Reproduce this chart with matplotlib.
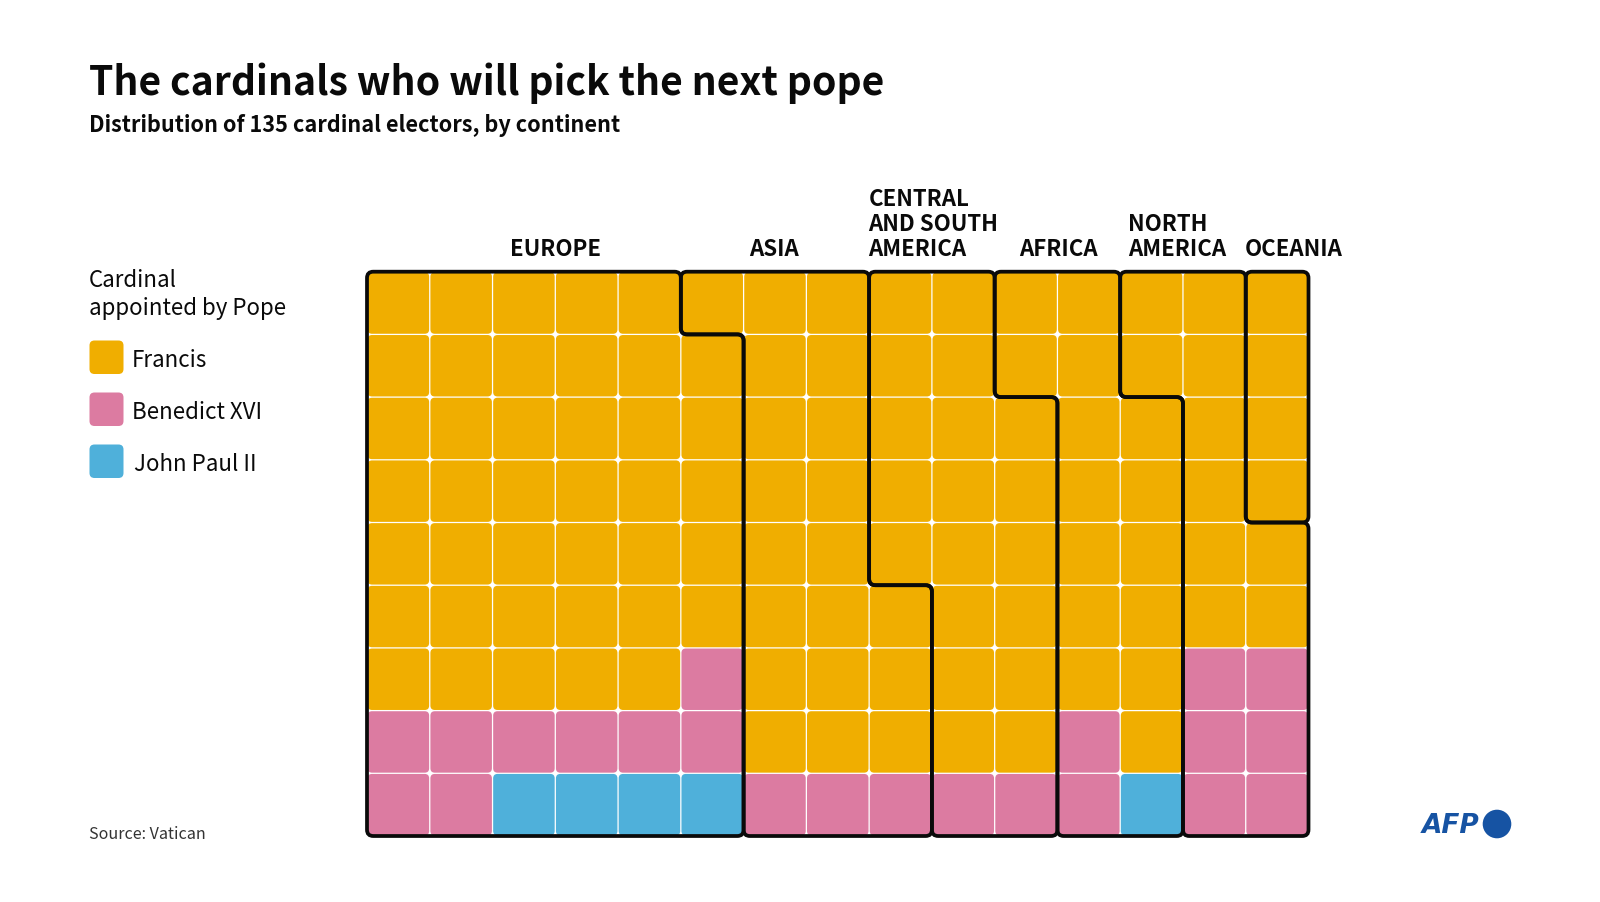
"""Waffle chart of the 135 cardinal electors, by continent and appointing pope."""

import matplotlib
matplotlib.use("Agg")
import matplotlib.pyplot as plt
from matplotlib.patches import Circle, FancyBboxPatch, PathPatch
from matplotlib.path import Path

W, H = 1600, 903
FONT = ["Noto Sans CJK SC", "DejaVu Sans"]
plt.rcParams["font.family"] = FONT

COLORS = {"F": "#f0ae00", "B": "#dc7ba1", "J": "#4fb0da"}
INK = "#0a0a0a"
LOGO_BLUE = "#1653a3"

POPES = ["Francis", "Benedict XVI", "John Paul II"]
POPE_KEYS = ["F", "B", "J"]

# one string per row, one letter per cell
POPE_ROWS = [
    "FFFFFFFFFFFFFFF",
    "FFFFFFFFFFFFFFF",
    "FFFFFFFFFFFFFFF",
    "FFFFFFFFFFFFFFF",
    "FFFFFFFFFFFFFFF",
    "FFFFFFFFFFFFFFF",
    "FFFFFBFFFFFFFBB",
    "BBBBBBFFFFFBFBB",
    "BBJJJJBBBBBBJBB",
]
CONTINENT_ROWS = [
    "EEEEEAAACCFFNNO",
    "EEEEEEAACCFFNNO",
    "EEEEEEAACCCFFNO",
    "EEEEEEAACCCFFNO",
    "EEEEEEAACCCFFNN",
    "EEEEEEAAACCFFNN",
    "EEEEEEAAACCFFNN",
    "EEEEEEAAACCFFNN",
    "EEEEEEAAACCFFNN",
]
CONTINENT_KEYS = ["E", "A", "C", "F", "N", "O"]

TITLE = "The cardinals who will pick the next pope"
SUBTITLE = "Distribution of 135 cardinal electors, by continent"
SOURCE = "Source: Vatican"


def outline(key):
    """Corner points of a continent's region, walked round its edge."""
    nrows, ncols = len(CONTINENT_ROWS), len(CONTINENT_ROWS[0])

    def inside(r, c):
        return 0 <= r < nrows and 0 <= c < ncols and CONTINENT_ROWS[r][c] == key

    edges = {}
    for r in range(nrows):
        for c in range(ncols):
            if not inside(r, c):
                continue
            if not inside(r - 1, c):
                edges[(c, r)] = (c + 1, r)
            if not inside(r, c + 1):
                edges[(c + 1, r)] = (c + 1, r + 1)
            if not inside(r + 1, c):
                edges[(c + 1, r + 1)] = (c, r + 1)
            if not inside(r, c - 1):
                edges[(c, r + 1)] = (c, r)

    start = min(edges)
    pts = [start]
    while edges[pts[-1]] != start:
        pts.append(edges[pts[-1]])

    corners = []
    for i, p in enumerate(pts):
        a, b = pts[i - 1], pts[(i + 1) % len(pts)]
        if (p[0] - a[0], p[1] - a[1]) != (b[0] - p[0], b[1] - p[1]):
            corners.append(p)
    return corners


def rounded_path(corners, rad=0.1):
    verts, codes = [], []
    n = len(corners)
    for i, p in enumerate(corners):
        a, b = corners[i - 1], corners[(i + 1) % n]

        def toward(q):
            dx, dy = q[0] - p[0], q[1] - p[1]
            length = (dx ** 2 + dy ** 2) ** 0.5
            return (p[0] + rad * dx / length, p[1] + rad * dy / length)

        verts += [toward(a), p, toward(b)]
        codes += [Path.MOVETO if i == 0 else Path.LINETO, Path.CURVE3, Path.CURVE3]
    verts.append(verts[0])
    codes.append(Path.CLOSEPOLY)
    return Path(verts, codes)


fig = plt.figure(figsize=(W / 100, H / 100), dpi=100, facecolor="white")

# overlay in pixel coordinates for the text, legend and logo
ov = fig.add_axes([0, 0, 1, 1])
ov.set_xlim(0, W)
ov.set_ylim(H, 0)
ov.axis("off")

# waffle
left, right, top, bottom = 367, 1308.5, 272.7, 837
ax = fig.add_axes([left / W, 1 - bottom / H, (right - left) / W, (bottom - top) / H])
ax.set_xlim(0, len(POPE_ROWS[0]))
ax.set_ylim(len(POPE_ROWS), 0)
ax.axis("off")

gap = 0.01
for r, row in enumerate(POPE_ROWS):
    for c, key in enumerate(row):
        ax.add_patch(FancyBboxPatch(
            (c + gap, r + gap), 1 - 2 * gap, 1 - 2 * gap,
            boxstyle="round,pad=0,rounding_size=0.07",
            fc=COLORS[key], ec="none",
        ))

for key in CONTINENT_KEYS:
    ax.add_patch(PathPatch(rounded_path(outline(key)), fc="none", ec=INK,
                           lw=2.7, clip_on=False, zorder=5))

# titles
ov.text(89, 95, TITLE, fontsize=28.2, fontweight="bold", color=INK, va="baseline")
ov.text(89, 132, SUBTITLE, fontsize=15.6, fontweight="bold", color=INK, va="baseline")
ov.text(89, 839, SOURCE, fontsize=11.55, color="#333333", va="baseline")

# continent labels
label_kw = dict(fontsize=16, fontweight="bold", color=INK, va="baseline")
ov.text(555, 256.5, "EUROPE", ha="center", **label_kw)
ov.text(774, 256.5, "ASIA", ha="center", **label_kw)
for y, line in zip((206.5, 231.5, 256.5), ("CENTRAL", "AND SOUTH", "AMERICA")):
    ov.text(868.5, y, line, ha="left", **label_kw)
ov.text(1058, 256.5, "AFRICA", ha="center", **label_kw)
for y, line in zip((231.5, 256.5), ("NORTH", "AMERICA")):
    ov.text(1128.5, y, line, ha="left", **label_kw)
ov.text(1294, 256.5, "OCEANIA", ha="center", **label_kw)

# legend
ov.text(89, 287, "Cardinal", fontsize=16.1, color=INK, va="baseline")
ov.text(89, 315, "appointed by Pope", fontsize=16.1, color=INK, va="baseline")
for i, (name, key) in enumerate(zip(POPES, POPE_KEYS)):
    y0 = 341.5 + i * 52
    ov.add_patch(FancyBboxPatch((89.5, y0), 34, 33.5,
                                boxstyle="round,pad=0,rounding_size=5",
                                fc=COLORS[key], ec="none"))
    ov.text(132 if i < 2 else 134, y0 + 26, name, fontsize=16.1, color=INK, va="baseline")

# logo
ov.text(1422, 833.5, "AFP", fontsize=19, fontweight="bold", fontstyle="oblique",
        color=LOGO_BLUE, va="baseline", family="DejaVu Sans")
ov.add_patch(Circle((1497, 825), 14.3, fc=LOGO_BLUE, ec="none"))

fig.savefig("out.png", dpi=100, facecolor="white")
